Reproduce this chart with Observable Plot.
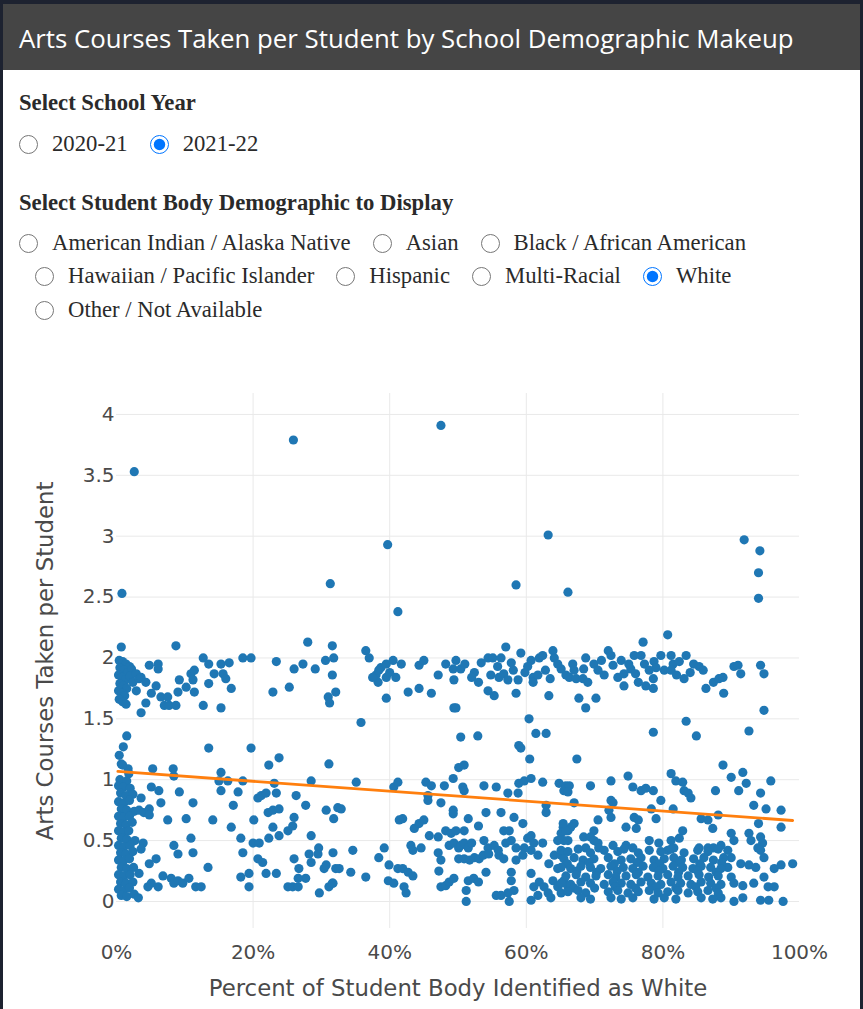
<!DOCTYPE html>
<html>
<head>
<meta charset="utf-8">
<script src="https://cdn.jsdelivr.net/npm/d3@7"></script>
<script src="https://cdn.jsdelivr.net/npm/@observablehq/plot@0.6"></script>
<style>
  html, body { margin: 0; padding: 0; }
  body { width: 863px; height: 1009px; background: #1d2230; position: relative; overflow: hidden; }
  #panel { position: absolute; left: 3px; top: 4px; width: 857px; height: 1005px; background: #fff; }
  #header { position: absolute; left: 3px; top: 4px; width: 857px; height: 66px; background: #454545; }
  #title { position: absolute; left: 16px; top: 17px; line-height: 34px; font-family: "Open Sans", sans-serif; font-size: 25.8px; color: #fff; white-space: nowrap; }
  .ctl { position: absolute; font-family: "Liberation Serif", "Times New Roman", serif; font-size: 22.7px; line-height: 22px; color: #2a2a2a; white-space: nowrap; }
  .heading { font-weight: bold; }
  .row { display: flex; align-items: center; height: 22px; }
  .row label { display: flex; align-items: center; margin-right: 22px; }
  .row input { width: 19px; height: 19px; margin: 0 14px 0 0; flex: none; }
  #chart { position: absolute; left: 3px; top: 340px; }
</style>
</head>
<body>
<div id="panel"></div>
<div id="header"><div id="title">Arts Courses Taken per Student by School Demographic Makeup</div></div>
<div class="ctl heading" style="left:19px; top:91.6px;">Select School Year</div>
<div class="ctl row" style="left:19px; top:133px;">
  <label><input type="radio" name="yr">2020-21</label>
  <label><input type="radio" name="yr" checked>2021-22</label>
</div>
<div class="ctl heading" style="left:19px; top:191.6px;">Select Student Body Demographic to Display</div>
<div class="ctl row" style="left:19px; top:232px;">
  <label><input type="radio" name="dm">American Indian / Alaska Native</label>
  <label><input type="radio" name="dm">Asian</label>
  <label><input type="radio" name="dm">Black / African American</label>
</div>
<div class="ctl row" style="left:35px; top:265px;">
  <label><input type="radio" name="dm">Hawaiian / Pacific Islander</label>
  <label><input type="radio" name="dm">Hispanic</label>
  <label><input type="radio" name="dm">Multi-Racial</label>
  <label><input type="radio" name="dm" checked>White</label>
</div>
<div class="ctl row" style="left:35px; top:299px;">
  <label><input type="radio" name="dm">Other / Not Available</label>
</div>
<div id="chart"></div>
<script>
// [percent of student body identified as White, arts courses taken per student]
const outliers = [
  [0.8,2.53],[2.6,3.53],[25.9,3.79],[47.5,3.91],[39.7,2.93],[31.3,2.61],[41.2,2.38],
  [63.2,3.01],[58.5,2.60],[66.1,2.54],[91.9,2.97],[94.2,2.88],[94.0,2.70],[94.0,2.49]
];
const upperLeft = [
  [0.7,2.09],[8.7,2.10],
  [0.4,1.98],[0.9,1.97],[1.4,1.95],[1.9,1.93],[0.5,1.92],[1.1,1.90],[1.6,1.88],[2.2,1.91],
  [0.3,1.86],[0.8,1.84],[1.3,1.82],[2.0,1.85],[0.5,1.79],[1.0,1.77],[1.5,1.75],[0.3,1.73],
  [0.8,1.71],[1.2,1.69],[0.4,1.66],[0.9,1.64],[1.4,1.62],[2.4,1.80],[2.9,1.87],[3.3,1.83],
  [3.6,1.84],[4.3,1.80],[2.9,1.73],
  [4.8,1.94],[6.1,1.95],[6.1,1.91],[3.6,1.55],[4.3,1.63],[5.1,1.71],[5.8,1.77],[6.5,1.68],
  [7.0,1.61],[7.7,1.61],[8.7,1.61],[7.5,1.68],[9.0,1.72],[9.2,1.82],[10.2,1.76],[10.9,1.87],
  [11.4,1.90],[11.2,1.82],[11.4,1.72],[12.7,2.0],[13.5,1.95],[12.7,1.61],[13.5,1.79],[14.3,1.87],
  [15.3,1.95],[15.6,1.87],[16.0,1.83],[16.8,1.75],[16.5,1.96],[15.3,1.59],[18.5,2.0],[19.7,2.0],
  [23.4,1.97],[22.9,1.72],[25.3,1.76],[26.0,1.91],[27.3,1.95],[28.0,2.13],[29.1,1.91],[30.6,1.98],
  [31.8,2.0],[31.6,2.10],[31.6,1.86],[31.0,1.68],[31.2,1.63],[32.1,1.72],[35.8,1.47],[36.5,2.06],
  [37.0,2.0],[38.0,1.86],[38.3,1.80],[38.7,1.92],[39.5,1.95],[39.5,1.84],[40.5,1.98],[40.9,1.84],
  [41.7,1.95],[39.5,1.67],[42.7,1.72],[44.3,1.75],[46.1,1.71],[44.3,1.94],[45.0,1.98],[47.1,1.86],
  [48.2,1.95],[49.3,1.91],[49.4,1.59],[1.5,1.36],[37.5,1.84],[38.4,1.90],[40.0,1.88]
];
const upperRight = [
  [49.7,1.98],[50.4,1.91],[49.4,1.82],[49.7,1.59],[52.4,1.88],[53.4,1.96],[54.4,2.0],[55.1,2.0],
  [56.3,2.0],[57.0,2.09],[54.4,1.73],[55.3,1.69],[54.8,1.86],[56.0,1.84],[56.7,1.87],[57.3,1.82],
  [58.1,1.90],[58.5,1.71],[58.8,1.82],[59.2,2.04],[60.7,1.98],[61.0,1.84],[61.0,1.80],[61.7,1.86],
  [61.9,2.0],[62.4,2.02],[60.4,1.50],[61.4,1.38],[62.9,1.38],[58.9,1.28],[63.3,1.69],[63.9,2.06],
  [64.1,2.0],[64.6,1.95],[65.1,1.91],[65.8,1.86],[66.3,1.84],[67.3,1.83],[67.7,1.67],[68.7,1.59],
  [70.2,1.67],[68.3,1.83],[69.0,1.80],[68.4,1.91],[68.7,2.0],[69.9,1.95],[71.4,1.86],[72.0,2.06],
  [72.4,2.02],[72.7,1.94],[73.4,1.84],[73.9,1.98],[74.3,1.77],[74.3,1.87],[75.3,1.91],[75.8,2.02],
  [76.4,1.80],[76.8,2.02],[77.1,2.13],[77.3,1.95],[77.5,1.77],[78.0,1.90],[78.6,1.83],[78.6,1.75],
  [78.7,1.97],[79.7,2.02],[80.2,1.90],[80.7,2.19],[81.2,2.02],[81.5,1.95],[81.2,1.90],[82.4,1.97],
  [83.4,2.02],[83.1,1.83],[84.5,1.95],[85.3,1.93],[85.9,1.90],[86.3,1.75],[87.4,1.80],[88.2,1.83],
  [88.8,1.84],[88.9,1.71],[90.4,1.93],[91.0,1.94],[91.4,1.87],[94.3,1.94],[94.8,1.87],[94.8,1.57],
  [92.6,1.40],[83.4,1.48],[84.9,1.36],[78.6,1.39],[50.4,1.35],[52.9,1.36],
  [51.0,1.95],[52.0,1.84],[53.0,1.80],[55.8,1.93],[57.8,1.96],[59.8,1.88],[60.2,1.93],[62.8,1.90],
  [63.5,1.83],[66.8,1.95],[67.0,1.90],[70.5,1.90],[71.0,1.98],[75.0,1.95],[76.0,1.87],[79.0,1.92],
  [82.0,1.86],[84.0,1.88]
];
const lowerLeft = [
  [1.0,1.27],[0.7,1.13],[1.7,1.09],[1.8,1.05],[0.4,1.20],[0.9,1.12],
  [0.5,1.00],[1.5,0.99],[0.3,0.95],[1.0,0.94],[2.0,0.93],[0.6,0.89],[1.4,0.87],[2.4,0.88],
  [0.3,0.82],[1.1,0.81],[1.9,0.83],[0.7,0.76],[1.5,0.75],[2.6,0.74],[0.3,0.70],[1.0,0.69],
  [1.9,0.70],[0.6,0.64],[1.4,0.63],[2.3,0.65],[0.3,0.58],[1.0,0.57],[1.8,0.58],[0.7,0.52],
  [1.5,0.51],[2.7,0.50],[0.3,0.46],[1.1,0.45],[2.0,0.46],[0.6,0.40],[1.4,0.39],[2.4,0.41],
  [0.3,0.34],[1.0,0.33],[1.9,0.35],[0.7,0.28],[1.5,0.27],[2.5,0.28],[0.3,0.22],[1.1,0.21],
  [2.0,0.22],[0.6,0.16],[1.4,0.15],[2.4,0.16],[0.3,0.10],[1.0,0.09],[1.9,0.11],[0.7,0.05],
  [1.5,0.04],[2.6,0.06],[3.2,0.03],
  [3.6,0.85],[3.3,0.75],[4.0,0.73],[4.8,0.76],[4.8,0.71],[5.1,0.94],[5.3,1.09],[6.2,0.91],
  [6.5,0.81],[8.3,1.09],[8.4,1.03],[7.5,0.67],[9.2,0.90],[10.2,0.68],[11.2,0.81],[3.9,0.48],
  [3.6,0.43],[3.3,0.23],[4.8,0.31],[5.8,0.35],[4.6,0.12],[5.1,0.15],[6.1,0.12],[6.8,0.21],
  [8.0,0.19],[8.4,0.15],[9.0,0.17],[9.7,0.15],[10.6,0.19],[8.4,0.46],[9.0,0.39],[10.9,0.52],
  [11.2,0.40],[11.6,0.12],[12.4,0.12],[13.4,0.28],[13.5,1.26],[14.1,0.67],[15.3,1.06],[15.0,0.99],
  [15.3,0.91],[16.3,0.99],[16.8,0.61],[17.1,0.79],[17.8,0.90],[18.5,0.99],[18.2,0.52],[18.5,0.40],
  [18.2,0.20],[19.4,0.23],[19.4,0.12],[19.7,1.26],[20.0,0.48],[20.1,0.67],[20.7,0.85],[20.9,0.48],
  [20.7,0.35],[21.4,0.32],[21.9,0.23],[21.2,0.87],[21.9,0.89],[22.3,1.12],[23.1,0.97],[23.4,0.89],
  [23.8,1.18],[22.2,0.73],[22.9,0.75],[23.8,0.76],[22.9,0.61],[22.3,0.52],[23.8,0.54],[23.4,0.23],
  [25.1,0.58],[25.8,0.62],[26.0,0.69],[26.3,0.87],[27.7,0.79],[28.5,0.54],[28.2,0.39],[28.5,0.32],
  [29.6,0.44],[30.4,0.27],[31.1,1.13],[28.5,0.99],[30.7,0.75],[31.8,0.68],[32.4,0.77],[27.7,0.19],
  [26.7,0.27],[26.0,0.35],[25.1,0.12],[25.8,0.12],[26.6,0.12],[26.6,0.19],[29.7,0.07],[31.1,0.12],
  [31.6,0.15],[32.1,0.27],[30.7,0.30],[29.5,0.39]
];
const lowerMid = [
  [35.1,0.98],[32.9,0.76],[31.7,0.40],[34.6,0.42],[32.6,0.27],[34.3,0.24],[31.7,0.15],[36.5,0.20],
  [38.4,0.36],[39.2,0.44],[39.9,0.30],[39.8,0.17],[40.6,0.15],[41.2,0.27],[41.9,0.27],[42.7,0.24],
  [43.4,0.21],[42.1,0.12],[42.4,0.07],[40.6,0.94],[41.2,0.98],[41.9,0.68],[41.4,0.67],[43.1,0.46],
  [43.4,0.42],[43.6,0.60],[44.3,0.64],[45.0,0.67],[44.6,0.44],[45.8,0.54],[47.1,0.53],[45.3,0.98],
  [46.1,0.95],[45.6,0.87],[45.6,0.83],[47.5,0.81],[48.0,0.95],[49.3,1.01],[50.1,1.10],[50.9,1.12],
  [50.7,0.94],[50.9,0.91],[49.3,0.75],[49.3,0.72],[47.1,0.40],[47.5,0.34],[47.2,0.25],[47.5,0.12],
  [48.2,0.13],[48.7,0.16],[49.4,0.19],[48.2,0.58],[49.0,0.56],[49.7,0.58],[48.7,0.46],[49.4,0.48],
  [50.1,0.44],[50.4,0.46],[50.9,0.48],[51.5,0.44],[52.0,0.48],[50.9,0.58],[51.5,0.68],[53.0,0.62],
  [53.8,0.50],[54.4,0.44],[55.3,0.46],[50.1,0.35],[50.9,0.35],[51.7,0.34],[52.4,0.36],[53.1,0.35],
  [53.7,0.38],[54.5,0.39],[56.0,0.38],[56.7,0.35],[55.9,0.42],[57.0,0.48],[57.8,0.50],[58.5,0.44],
  [58.5,0.34],[56.7,0.58],[57.5,0.58],[56.3,0.73],[58.2,0.69],[59.5,0.64],[54.1,0.73],[51.5,0.17],
  [52.3,0.19],[53.0,0.16],[51.2,0.09],[51.2,0.0],[54.1,0.24],[57.8,0.24],[58.2,0.09],[57.3,0.07],
  [56.3,0.05],[55.6,0.05],[57.5,0.0],[53.8,0.95],[55.6,0.94],[57.3,0.89],[58.8,0.89],[58.9,0.97],
  [59.7,0.99],[60.7,1.01],[62.4,0.98],[62.9,0.79],[62.9,0.73],[64.8,0.97],[65.5,0.91],[59.2,1.26],
  [60.5,1.17],[60.2,0.52],[60.7,0.54],[61.1,0.48],[61.7,0.38],[62.4,0.48],[60.7,0.42],[59.7,0.44],
  [59.5,0.38],[60.7,0.23],[61.1,0.12],[60.7,0.01],[61.7,0.05],[61.9,0.16],[62.6,0.12],[63.2,0.07],
  [63.3,0.31],[64.1,0.38],[64.6,0.27],[63.9,0.17],[64.6,0.12],[63.6,0.03],[57.8,0.17]
];
const lowerRight = [
  [65.1,0.38],[65.4,0.61],[65.1,0.56],[66.1,0.58],[65.5,0.50],[64.6,0.50],[65.1,0.07],[65.5,0.17],[66.1,0.12],
  [67.4,1.17],[65.8,0.95],[66.3,0.95],[66.1,0.90],[67.0,0.81],[69.4,0.95],[72.4,0.99],[72.4,0.83],
  [72.7,0.81],[72.1,0.75],[72.4,0.69],[74.9,1.03],[75.6,0.94],[76.8,0.91],[77.5,0.93],[78.6,0.91],
  [79.7,0.83],[78.3,0.76],[79.0,0.68],[75.8,0.69],[76.4,0.67],[76.1,0.60],[74.6,0.61],[70.5,0.67],
  [69.9,0.58],[67.0,0.64],[66.5,0.61],[65.8,0.58],[65.4,0.64],[66.1,0.50],[68.4,0.53],[69.4,0.53],
  [69.9,0.50],[70.5,0.48],[68.7,0.44],[70.6,0.44],[72.7,0.46],[74.6,0.46],[75.6,0.44],[78.0,0.50],
  [79.4,0.48],[81.2,1.05],[81.9,0.99],[82.9,0.98],[83.1,0.91],[83.7,0.89],[84.1,0.85],[81.5,0.76],
  [82.9,0.58],[82.4,0.52],[81.2,0.50],[81.6,0.44],[80.7,0.42],[85.3,0.44],[86.6,0.44],[87.4,0.44],
  [88.5,0.46],[85.6,0.68],[86.6,0.67],[87.3,0.60],[88.1,0.71],[88.8,1.12],[90.0,1.02],[91.7,1.06],
  [92.2,0.97],[91.1,0.91],[87.7,0.91],[95.8,0.99],[94.3,0.89],[93.3,0.79],[95.1,0.76],[97.3,0.75],
  [94.0,0.64],[97.3,0.61],[90.0,0.56],[90.4,0.50],[92.6,0.56],[92.9,0.50],[94.3,0.53],[94.6,0.48],
  [93.9,0.44],[89.5,0.42],[94.3,0.42],[94.8,0.36],[90.0,0.36],[88.9,0.36],[91.4,0.31],[92.6,0.30],
  [93.6,0.28],[96.3,0.27],[97.3,0.30],[99.0,0.31],[89.5,0.28],[90.0,0.20],[90.4,0.15],[91.7,0.13],
  [93.3,0.15],[94.8,0.20],[95.4,0.12],[96.3,0.12],[94.3,0.01],[95.5,0.01],[97.6,0.0],[90.4,0.0],
  [91.7,0.03],[88.5,0.03],
  [65.1,0.42],[66.1,0.41],[67.6,0.43],[69.4,0.40],[71.4,0.42],[73.4,0.41],[74.3,0.43],[76.4,0.40],
  [78.0,0.42],[79.7,0.41],[81.2,0.43],[83.1,0.40],[85.1,0.42],[86.6,0.41],[88.1,0.43],
  [65.5,0.35],[67.0,0.36],[68.3,0.34],[69.9,0.35],[72.0,0.36],[73.9,0.34],[75.3,0.35],[76.8,0.36],
  [78.7,0.34],[80.2,0.35],[81.6,0.36],[82.7,0.34],[84.5,0.35],[86.0,0.36],[87.4,0.34],
  [66.0,0.31],[69.2,0.32],[72.9,0.31],[76.2,0.32],[79.5,0.31],[82.4,0.32],[85.4,0.31],[88.6,0.32],
  [65.1,0.28],[66.5,0.27],[68.0,0.29],[69.4,0.28],[70.9,0.27],[72.4,0.29],[74.2,0.28],[75.6,0.27],
  [77.1,0.29],[78.6,0.28],[80.0,0.27],[81.5,0.29],[82.9,0.28],[84.4,0.27],[85.6,0.29],[87.0,0.28],[88.5,0.27],
  [67.4,0.25],[70.3,0.24],[73.3,0.25],[76.4,0.24],[79.4,0.25],[82.3,0.24],[85.1,0.25],[87.8,0.24],
  [65.8,0.21],[67.3,0.22],[68.7,0.20],[70.2,0.21],[72.0,0.22],[73.1,0.20],[74.6,0.21],[76.1,0.22],
  [77.8,0.20],[79.3,0.21],[80.7,0.22],[82.2,0.20],[83.7,0.21],[85.3,0.22],[86.7,0.20],[88.1,0.21],
  [65.1,0.15],[66.5,0.14],[68.0,0.16],[69.4,0.15],[71.4,0.14],[72.7,0.16],[73.9,0.15],[75.3,0.14],
  [76.8,0.16],[78.3,0.15],[79.7,0.14],[81.2,0.16],[82.6,0.15],[84.1,0.14],[85.6,0.16],[87.0,0.15],[88.5,0.14],
  [67.0,0.11],[70.0,0.11],[73.0,0.12],[76.0,0.11],[79.0,0.12],[81.9,0.11],[84.8,0.12],[87.8,0.11],
  [66.1,0.08],[67.6,0.09],[68.7,0.07],[72.0,0.08],[73.4,0.09],[74.9,0.07],[76.4,0.08],[78.0,0.09],
  [79.3,0.07],[80.7,0.08],[82.2,0.09],[83.7,0.07],[85.1,0.08],[86.6,0.09],[88.1,0.07],
  [68.0,0.03],[69.4,0.02],[72.4,0.03],[73.9,0.02],[75.6,0.03],[78.7,0.02],[80.2,0.03],[81.9,0.02],
  [85.6,0.03],[87.3,0.02]
];
// fitted trend line end points
const trendPct = [0.2, 99.0];
const trendArts = [1.068, 0.665];

const xTicks = [0, 20, 40, 60, 80, 100];
const yTicks = [0, 0.5, 1, 1.5, 2, 2.5, 3, 3.5, 4];
const xTitle = "Percent of Student Body Identified as White";
const yTitle = "Arts Courses Taken per Student";

const schools = [...outliers, ...upperLeft, ...upperRight, ...lowerLeft, ...lowerMid, ...lowerRight]
  .map(([pct, arts]) => ({pct, arts}));
const trend = trendPct.map((pct, i) => ({pct, arts: trendArts[i]}));

const chart = Plot.plot({
  width: 857,
  height: 669,
  marginLeft: 113,
  marginRight: 61,
  marginTop: 53,
  marginBottom: 81,
  style: {background: "transparent", fontFamily: "DejaVu Sans, Verdana, sans-serif"},
  x: {domain: [0, 100]},
  y: {domain: [-0.222, 4.172]},
  marks: [
    Plot.gridY(yTicks, {stroke: "#e9e9e9", strokeOpacity: 1}),
    Plot.gridX([20, 40, 60, 80], {stroke: "#e9e9e9", strokeOpacity: 1}),
    Plot.axisX(xTicks, {tickSize: 0, tickPadding: 16, tickFormat: d => d + "%", fontSize: 20, fill: "#4a4a4a", label: null}),
    Plot.axisY(yTicks, {tickSize: 0, tickPadding: 2, tickFormat: d => String(d), fontSize: 20, fill: "#4a4a4a", label: null}),
    Plot.dot(schools, {x: "pct", y: "arts", r: 4.6, fill: "#1f77b4", stroke: null}),
    Plot.line(trend, {x: "pct", y: "arts", stroke: "#ff7f0e", strokeWidth: 2.8}),
    Plot.text([xTitle], {frameAnchor: "bottom", dy: 60, lineAnchor: "middle", fontSize: 22.8, fill: "#4a4a4a"}),
    Plot.text([yTitle], {frameAnchor: "left", dx: -71, rotate: -90, lineAnchor: "middle", textAnchor: "middle", fontSize: 22.8, fill: "#4a4a4a"})
  ]
});
document.getElementById("chart").appendChild(chart);
</script>
</body>
</html>
